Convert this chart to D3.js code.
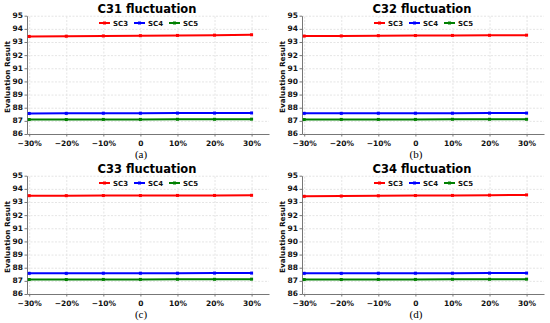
<!DOCTYPE html>
<html>
<head>
<meta charset="utf-8">
<script src="https://cdn.jsdelivr.net/npm/d3@7"></script>
<style>
 body{margin:0;background:#fff}
 .tick text{font-family:"DejaVu Sans",sans-serif;font-weight:bold;font-size:7.5px;fill:#111}
 .grid line{stroke:#d8d8d8;stroke-dasharray:2,1.5;stroke-width:0.7}
 .grid .domain{display:none}
</style>
</head>
<body>
<div id="chart"></div>
<script>
// x values (percent change)
const changes = [-30,-20,-10,0,10,20,30]
const yTicks = [86,87,88,89,90,91,92,93,94,95]
const seriesNames = ["SC3","SC4","SC5"]
const seriesColors = ["#ff0000","#0000ff","#008000"]
const titles = ["C31 fluctuation","C32 fluctuation","C33 fluctuation","C34 fluctuation"]
const captions = ["(a)","(b)","(c)","(d)"]

// values
const c31SC3 = [93.42,93.44,93.46,93.48,93.50,93.52,93.55]
const c31SC4 = [87.56,87.57,87.58,87.58,87.59,87.59,87.60]
const c31SC5 = [87.10,87.10,87.11,87.11,87.12,87.12,87.13]
const c32SC3 = [93.45,93.46,93.48,93.49,93.50,93.51,93.52]
const c32SC4 = [87.57,87.57,87.58,87.58,87.58,87.59,87.59]
const c32SC5 = [87.10,87.11,87.11,87.11,87.12,87.12,87.12]
const c33SC3 = [93.48,93.48,93.49,93.49,93.50,93.50,93.51]
const c33SC4 = [87.57,87.57,87.58,87.58,87.58,87.59,87.59]
const c33SC5 = [87.10,87.10,87.11,87.11,87.12,87.12,87.13]
const c34SC3 = [93.43,93.45,93.47,93.49,93.50,93.52,93.54]
const c34SC4 = [87.57,87.57,87.58,87.58,87.58,87.59,87.59]
const c34SC5 = [87.10,87.10,87.11,87.11,87.12,87.12,87.13]

const panelData = [
  [c31SC3,c31SC4,c31SC5],
  [c32SC3,c32SC4,c32SC5],
  [c33SC3,c33SC4,c33SC5],
  [c34SC3,c34SC4,c34SC5]
]

const W = 550, H = 323
const svg = d3.select("#chart").append("svg").attr("width",W).attr("height",H)

let plot = {left:27, right:269, top:15.7, bottom:134}
let offsets = [[0,0],[275,0],[0,160],[275,160]]

const x = d3.scaleLinear().domain([-30.6,34.7]).range([plot.left,plot.right])
const y = d3.scaleLinear().domain([86,95]).range([plot.bottom,plot.top])
const fmt = d => d === 0 ? "0" : (d < 0 ? "\u2212" + Math.abs(d) : d) + "%"

panelData.forEach((series,p) => {
  let g = svg.append("g").attr("transform",`translate(${offsets[p][0]},${offsets[p][1]})`)

  // grid
  g.append("g").attr("class","grid").attr("transform",`translate(0,${plot.bottom})`)
    .call(d3.axisBottom(x).tickValues(changes).tickSize(-(plot.bottom-plot.top)).tickFormat(""))
  g.append("g").attr("class","grid").attr("transform",`translate(${plot.left},0)`)
    .call(d3.axisLeft(y).tickValues(yTicks).tickSize(-(plot.right-plot.left)).tickFormat(""))

  // axes
  let xg = g.append("g").attr("transform",`translate(0,${plot.bottom})`)
    .call(d3.axisBottom(x).tickValues(changes).tickFormat(fmt).tickSize(2.5).tickSizeOuter(0).tickPadding(4))
  let yg = g.append("g").attr("transform",`translate(${plot.left},0)`)
    .call(d3.axisLeft(y).tickValues(yTicks).tickFormat(d3.format("d")).tickSize(2.5).tickSizeOuter(0).tickPadding(1.5))
  xg.select(".domain").attr("stroke","#777")
  yg.select(".domain").attr("stroke","#777")
  xg.selectAll(".tick line").attr("stroke","#777")
  yg.selectAll(".tick line").attr("stroke","#777")
  yg.selectAll(".tick text").attr("dy","0.25em")

  // lines
  let line = d3.line().x((d,i)=>x(changes[i])).y(d=>y(d))
  series.forEach((vals,s) => {
    g.append("path").datum(vals)
      .attr("d",line).attr("fill","none")
      .attr("stroke",seriesColors[s]).attr("stroke-width",2)
    g.selectAll(null).data(vals).enter().append("rect")
      .attr("x",(d,i)=>x(changes[i])-1.5).attr("y",d=>y(d)-1.5)
      .attr("width",3).attr("height",3).attr("fill",seriesColors[s])
  })

  // legend
  let lg = g.append("g").attr("transform","translate(97,18)")
  lg.append("rect").attr("x",0).attr("y",0).attr("width",101).attr("height",10)
    .attr("fill","white").attr("opacity",0.85)
  seriesNames.forEach((name,s) => {
    let ex = 2 + s*35
    lg.append("line").attr("x1",ex).attr("x2",ex+11).attr("y1",5).attr("y2",5)
      .attr("stroke",seriesColors[s]).attr("stroke-width",2)
    lg.append("rect").attr("x",ex+4).attr("y",3.5).attr("width",3).attr("height",3).attr("fill",seriesColors[s])
    lg.append("text").attr("x",ex+14).attr("y",7.6).text(name)
      .attr("font-family","DejaVu Sans").attr("font-weight","bold").attr("font-size",7)
      .attr("fill","#111")
  })

  // title
  g.append("text").attr("x",147).attr("y",12.5).attr("text-anchor","middle")
    .attr("font-family","DejaVu Sans").attr("font-weight","bold").attr("font-size",11.5)
    .attr("fill","#000").text(titles[p])

  // y label
  g.append("text").attr("transform","translate(9.5,77) rotate(-90)").attr("text-anchor","middle")
    .attr("font-family","DejaVu Sans").attr("font-weight","bold").attr("font-size",7.3)
    .attr("fill","#111").text("Evaluation Result")

  // caption
  g.append("text").attr("x",141).attr("y",158).attr("text-anchor","middle")
    .attr("font-family","Liberation Serif, serif").attr("font-size",11)
    .attr("fill","#000").text(captions[p])
})
</script>
</body>
</html>
